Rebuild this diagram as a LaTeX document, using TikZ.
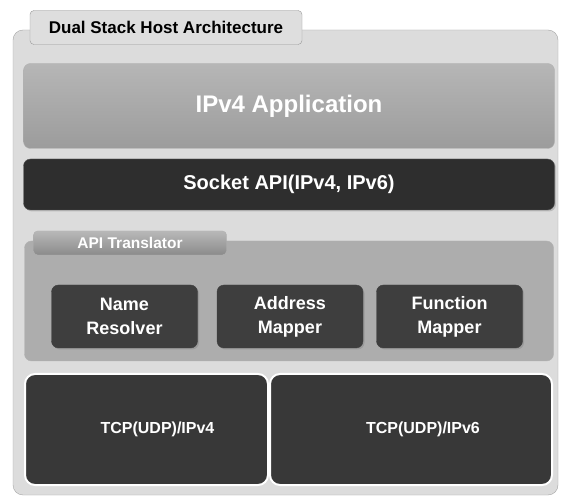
\documentclass[tikz,border=0pt]{standalone}
\usepackage{fontspec}
\setmainfont{Liberation Sans}
\usetikzlibrary{shadows}
\definecolor{bgfill}{HTML}{DCDCDC}
\definecolor{appfill}{HTML}{A4A4A4}
\definecolor{darkfill}{HTML}{2E2E2E}
\definecolor{midfill}{HTML}{ADADAD}
\definecolor{innerfill}{HTML}{3E3E3E}
\definecolor{tabfill}{HTML}{9A9A9A}
\tikzset{
  box/.style={rectangle, rounded corners=7pt, inner sep=0pt, align=center, font=\bfseries, text=white},
  appbox/.style={box, top color=appfill!80, bottom color=appfill!95!black, draw=gray!60},
  darkbox/.style={box, fill=darkfill, draw=gray!70!black, drop shadow={opacity=0.35,shadow xshift=1.5pt,shadow yshift=-1.5pt}},
  innerbox/.style={box, fill=innerfill, draw=gray!50!black, minimum width=146pt, minimum height=63pt, font=\bfseries\fontsize{18}{24}\selectfont, drop shadow={opacity=0.4,shadow xshift=1.5pt,shadow yshift=-1.5pt}},
  tcpbox/.style={box, fill=innerfill!90!black, draw=white, line width=2pt, rounded corners=10pt, minimum height=111pt, font=\bfseries\fontsize{16}{18}\selectfont},
  tabbox/.style={rectangle, rounded corners=4pt, inner sep=0pt, font=\bfseries},
}
\begin{document}
\begin{tikzpicture}[x=1pt,y=-1pt]
\useasboundingbox (0,0) rectangle (566,500);
\fill[white] (0,0) rectangle (566,500);
% outer frame
\node[rectangle, rounded corners=10pt, fill=bgfill, draw=gray!70, minimum width=545pt, minimum height=465pt] (frame) at (285.5,262.5) {};
% title tab
\node[tabbox, fill=bgfill!95!white, draw=gray!80, minimum width=272pt, minimum height=34pt, font=\bfseries\fontsize{17}{19}\selectfont] (title) at (166,27.5) {Dual Stack Host Architecture};
% IPv4 application
\node[appbox, minimum width=531pt, minimum height=85pt, font=\bfseries\fontsize{24}{28}\selectfont] (app) at (289,106) {IPv4 Application};
% socket API
\node[darkbox, minimum width=531pt, minimum height=51pt, font=\bfseries\fontsize{20}{22}\selectfont] (socket) at (289,184.5) {Socket API(IPv4, IPv6)};
% API translator container
\node[box, fill=midfill, draw=gray!60, minimum width=529pt, minimum height=120pt] (trans) at (289,301) {};
\node[tabbox, top color=tabfill!70, bottom color=tabfill!90!black, draw=gray!60, minimum width=193pt, minimum height=24pt, text=white, font=\bfseries\fontsize{15.5}{17}\selectfont] (transtab) at (130,243) {API Translator};
% inner boxes
\node[innerbox] (name) at (124.5,316.5) {Name\\Resolver};
\node[innerbox] (addr) at (290,316.5) {Address\\Mapper};
\node[innerbox] (func) at (449.5,316.5) {Function\\Mapper};
% TCP boxes
\node[tcpbox, minimum width=243pt] (tcp4) at (146.5,429.5) {\hspace*{22pt}TCP(UDP)/IPv4};
\node[tcpbox, minimum width=282pt] (tcp6) at (411,429.5) {\hspace*{24pt}TCP(UDP)/IPv6};
\end{tikzpicture}
\end{document}
